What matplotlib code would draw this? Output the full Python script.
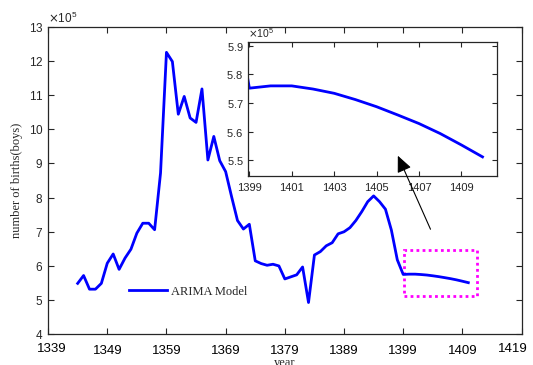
import numpy as np
import matplotlib
matplotlib.use("Agg")
import matplotlib.pyplot as plt
import matplotlib.transforms as mtransforms
from matplotlib.ticker import ScalarFormatter
from matplotlib.patches import Rectangle

# observed + forecast births (boys), units of 1e5
years = list(range(1344, 1411))
births = [5.49, 5.72, 5.32, 5.32, 5.49, 6.08, 6.35, 5.90, 6.23, 6.49,
          6.96, 7.25, 7.25, 7.06, 8.72, 12.25, 11.98, 10.44, 10.96, 10.33,
          10.20, 11.18, 9.10, 9.79, 9.08, 8.76, 8.03, 7.33, 7.08, 7.22,
          6.15, 6.07, 6.02, 6.05, 6.00, 5.62, 5.68, 5.74, 5.97, 4.93,
          6.32, 6.42, 6.59, 6.68, 6.94, 7.00, 7.12, 7.33, 7.59, 7.88,
          8.05, 7.88, 7.66, 7.05, 6.18, 5.752,
          5.760, 5.760, 5.749, 5.734, 5.712, 5.687, 5.658, 5.628, 5.593, 5.553, 5.511]

main_xticks = [1339, 1349, 1359, 1369, 1379, 1389, 1399, 1409, 1419]
main_yticks = [4, 5, 6, 7, 8, 9, 10, 11, 12, 13]
inset_xticks = [1399, 1401, 1403, 1405, 1407, 1409]
inset_yticks = [5.5, 5.6, 5.7, 5.8, 5.9]

y = np.array(births) * 1e5
grey = "#262626"
serif = ["Liberation Serif", "DejaVu Serif"]
plt.rcParams["font.family"] = ["Liberation Sans", "DejaVu Sans"]
plt.rcParams["mathtext.fontset"] = "dejavusans"

fig = plt.figure(figsize=(5.33, 3.65), dpi=100)
ax = fig.add_axes([0.0902, 0.0841, 0.8884, 0.8427])
ax.plot(years, y, color="blue", lw=2.0, label="ARIMA Model")
ax.set_xlim(1339, 1419)
ax.set_ylim(4e5, 13e5)
ax.set_xticks(main_xticks)
ax.set_yticks(np.array(main_yticks) * 1e5)
fmt = ScalarFormatter(useMathText=True)
fmt.set_powerlimits((5, 5))
ax.yaxis.set_major_formatter(fmt)
ax.yaxis.get_offset_text().set_fontsize(8.5)
ax.yaxis.get_offset_text().set_color(grey)
ax.tick_params(direction="in", top=True, right=True, length=4, colors=grey)
ax.tick_params(axis="x", labelsize=9.5, labelcolor="black", pad=8)
ax.tick_params(axis="y", labelsize=8.5)
for s in ax.spines.values():
    s.set_color(grey)
    s.set_linewidth(0.9)
ax.set_ylabel("number of births(boys)", family=serif, fontsize=9, color=grey, labelpad=4)
ax.set_xlabel("year", family=serif, fontsize=9, color=grey, labelpad=0)
ax.legend(loc="center left", bbox_to_anchor=(0.17, 0.138), frameon=False,
          prop={"family": serif, "size": 9}, handlelength=3.1, borderpad=0,
          borderaxespad=0, handletextpad=0.3, labelcolor=grey)

# first and last year labels sit a little off their ticks
fig.canvas.draw()
xlabels = ax.get_xticklabels()
xlabels[0].set_transform(xlabels[0].get_transform() +
                         mtransforms.ScaledTranslation(4 / 100, 2 / 100, fig.dpi_scale_trans))
xlabels[-1].set_transform(xlabels[-1].get_transform() +
                          mtransforms.ScaledTranslation(-9 / 100, 2 / 100, fig.dpi_scale_trans))

# zoom rectangle
ax.add_patch(Rectangle((1399.1, 5.12e5), 12.4, 1.35e5, fill=False,
                       edgecolor="magenta", ls=(0, (1, 1.2)), lw=2))

# inset
axins = fig.add_axes([0.4659, 0.5186, 0.4672, 0.3672])
axins.plot(years, y, color="blue", lw=2.0)
axins.set_xlim(1398.95, 1410.7)
axins.set_ylim(5.445e5, 5.915e5)
axins.set_xticks(inset_xticks)
axins.set_yticks(np.array(inset_yticks) * 1e5)
fmt2 = ScalarFormatter(useMathText=True)
fmt2.set_powerlimits((5, 5))
axins.yaxis.set_major_formatter(fmt2)
axins.yaxis.get_offset_text().set_fontsize(7.5)
axins.yaxis.get_offset_text().set_color(grey)
axins.tick_params(direction="in", top=True, right=True, length=3.5, colors=grey, labelsize=8)
axins.tick_params(axis="x", pad=5)
for s in axins.spines.values():
    s.set_color(grey)
    s.set_linewidth(0.9)

axins.annotate("", xy=(1397.9, 9.3e5), xycoords=ax.transData,
               xytext=(1403.8, 7.0e5), textcoords=ax.transData,
               arrowprops=dict(arrowstyle="-|>,head_length=1.0,head_width=0.45",
                               color="black", lw=0.8),
               annotation_clip=False)

fig.savefig("out.png", dpi=100)
